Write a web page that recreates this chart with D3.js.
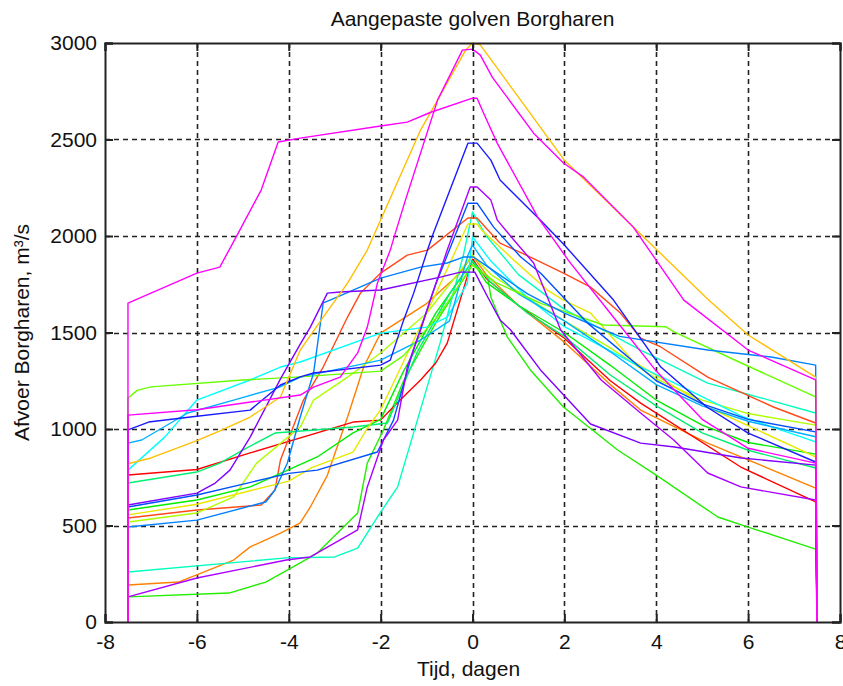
<!DOCTYPE html>
<html>
<head>
<meta charset="utf-8">
<script src="https://cdn.jsdelivr.net/npm/d3@7"></script>
<style>
  body { margin: 0; background: #fff; }
  text { font-family: "Liberation Sans", Arial, sans-serif; fill: #111; }
</style>
</head>
<body>
<div id="chart"></div>
<script>
// axis settings
const xTicks = [-8, -6, -4, -2, 0, 2, 4, 6, 8];
const yTicks = [0, 500, 1000, 1500, 2000, 2500, 3000];
const tStart = -7.5, tEnd = 7.5;

// waves: [tijd (dagen), afvoer (m3/s)]
const orange192 = [[-7.5,192],[-6.4,207],[-5.2,321],[-4.84,389],[-4.18,461],[-3.75,513],[-3.53,596],[-3.16,760],[-2.72,1062],[-2.37,1321],[-2,1497],[-1,1650],[-0.3,1800],[0,1900],[0.3,1800],[1,1640],[2,1450],[3,1230],[3.66,1098],[5.12,927],[7.47,694]];
const lowGreen = [[-7.5,130],[-5.3,150],[-4.5,207],[-3.75,306],[-3.38,357],[-2.5,565],[-2.29,823],[-1.94,995],[-1.5,1250],[-0.8,1550],[0,1850],[0.33,1787],[0.4,1684],[0.6,1565],[0.76,1476],[1.26,1306],[1.98,1114],[3.16,891],[4,761],[5.34,544],[6,492],[7.47,378]];
const aqua259 = [[-7.5,259],[-4.05,332],[-3,337],[-2.5,383],[-2.07,544],[-1.63,700],[-1.2,1046],[-0.7,1450],[-0.2,1900],[0,2124],[0.3,2000],[1,1800],[2,1620],[3.66,1409],[5.12,1238],[7.47,1083]];
const red762 = [[-7.5,762],[-6,790],[-4.84,876],[-2.6,1036],[-2,1046],[-1.79,1098],[-1.42,1186],[-1.13,1254],[-0.8,1342],[-0.55,1445],[0,1880],[0.3,1780],[1,1640],[2,1470],[3,1250],[3.66,1134],[5.84,803],[7.47,622]];
const orangeRed = [[-7.5,539],[-6,580],[-4.6,606],[-4.3,684],[-4.18,840],[-3.68,1150],[-3.25,1321],[-2.72,1580],[-2.44,1704],[-2,1808],[-1.42,1901],[-0.98,1927],[-0.1,2093],[0.1,2093],[0.3,2040],[0.6,1963],[1.26,1891],[1.98,1808],[2.57,1735],[3.22,1601],[3.66,1471],[4.1,1425],[5.12,1269],[6.55,1114],[7.47,1031]];
const yellowGreen = [[-7.5,518],[-6,565],[-5.2,648],[-4.7,823],[-3.75,1010],[-3.46,1150],[-2.72,1269],[-2,1394],[-1,1600],[0,1900],[0.4,1800],[1.2,1680],[2,1560],[3,1420],[4,1260],[5,1150],[6,1080],[7.47,1020]];
const green580 = [[-7.5,580],[-6,632],[-4.84,700],[-3.38,855],[-2.6,980],[-2,1050],[-1.5,1300],[-0.8,1600],[0,1870],[0.3,1760],[1,1640],[2,1500],[3,1330],[4,1150],[5,1020],[6,930],[7.47,870]];
const spring720 = [[-7.5,720],[-6,777],[-5.5,823],[-5,891],[-4.3,979],[-2.6,1010],[-1.85,1031],[-1.2,1400],[-0.5,1700],[0,1870],[0.4,1760],[1.2,1600],[2,1480],[3,1280],[4,1120],[5,980],[6,890],[7.47,798]];
const yellow555 = [[-7.5,555],[-6,610],[-4.84,680],[-4,730],[-3.5,800],[-2.6,880],[-2.3,1000],[-2,1100],[-1.5,1350],[-0.8,1700],[-0.1,2062],[0.1,2062],[0.2,2031],[0.9,1875],[1.63,1720],[1.98,1668],[2.57,1601],[3.5,1350],[5.12,1114],[7.47,855]];
const cyan787 = [[-7.5,787],[-6.7,958],[-6,1150],[-4.84,1254],[-4.18,1321],[-3.75,1347],[-2,1497],[-1,1528],[-0.55,1580],[-0.11,1756],[0,1995],[0.4,1870],[1.2,1680],[2,1530],[3.66,1321],[4.4,1238],[5.9,1062],[7.47,933]];
const sky927 = [[-7.5,927],[-7.2,943],[-6.2,1083],[-5.2,1150],[-4.2,1217],[-3.75,1269],[-2,1357],[-1.13,1461],[-0.5,1560],[-0.1,1900],[0,1953],[0.3,1850],[1,1700],[2,1560],[3,1400],[4,1230],[5,1120],[6,1040],[7.47,960]];
const chartreuse = [[-7.5,1160],[-7.3,1200],[-7,1218],[-5,1254],[-3.75,1270],[-2,1300],[-1.5,1380],[-0.7,1600],[0,1850],[0.5,1760],[1.5,1650],[2.85,1539],[4.2,1530],[4.4,1502],[5.85,1342],[7.47,1166]];
const azure492 = [[-7.5,492],[-6,528],[-4.5,622],[-4.3,684],[-4.03,824],[-3.75,1062],[-3.46,1290],[-3.25,1653],[-3.1,1668],[-2,1782],[-1.13,1839],[-0.55,1860],[-0.2,1891],[0.02,1891],[0.4,1830],[1.2,1700],[2,1600],[3.2,1480],[5.12,1409],[6.5,1373],[7.47,1331]];
const blue596 = [[-7.5,596],[-6,658],[-4,770],[-3.38,787],[-2.07,881],[-1.72,1046],[-1.3,1400],[-0.8,1750],[-0.1,2170],[0.1,2170],[0.46,2046],[1.05,1891],[1.48,1808],[2.5,1550],[4,1250],[5,1130],[6,1050],[7.47,985]];
const violet606 = [[-7.5,606],[-6,668],[-5.6,720],[-5.28,787],[-4.84,958],[-4.18,1260],[-3.75,1440],[-3.53,1528],[-3.16,1704],[-2.88,1710],[-2,1720],[-0.7,1787],[-0.26,1813],[0.05,1813],[0.33,1684],[0.6,1565],[0.83,1513],[1.5,1300],[2.57,1026],[3.66,927],[4.4,907],[5.85,850],[7.47,813]];
const purple130 = [[-7.5,130],[-6,228],[-4.05,321],[-3.53,337],[-2.5,477],[-2.29,700],[-1.94,943],[-1.63,1046],[-1.42,1321],[-1.13,1513],[-0.92,1668],[-0.55,1927],[-0.05,2254],[0.1,2254],[0.4,2186],[0.54,2082],[0.9,1979],[1.33,1860],[1.92,1513],[2.8,1254],[3.66,1083],[4.38,943],[5.12,772],[5.84,700],[7.47,632]];
const blue995 = [[-7.5,995],[-7.05,1036],[-6.14,1062],[-4.84,1098],[-4.18,1228],[-3.75,1270],[-3.46,1290],[-2,1331],[-1.79,1357],[-1.5,1564],[-1.28,1704],[-0.98,1927],[-0.85,2015],[-0.1,2481],[0.1,2481],[0.4,2393],[0.6,2290],[1.48,2082],[2,1953],[3.07,1668],[4.1,1321],[5.1,1114],[6,979],[7.47,829]];
const gold820 = [[-7.5,820],[-7,850],[-6,940],[-5.5,990],[-4.84,1062],[-4.18,1166],[-3.75,1409],[-3.25,1580],[-2.72,1756],[-2.29,1927],[-1.13,2549],[-0.15,2963],[0,3000],[0.17,2990],[2,2393],[3.95,1943],[5.14,1668],[6,1487],[7.47,1269]];
const magenta1072 = [[-7.5,1072],[-6,1100],[-3.75,1176],[-3.46,1217],[-2.88,1269],[-2.5,1394],[-2.29,1528],[-2.07,1756],[-1.79,1927],[-1.68,2015],[-1.46,2186],[-0.76,2704],[-0.22,2963],[0,2968],[0.17,2937],[0.43,2823],[1.33,2533],[1.98,2378],[2.42,2305],[3.5,2046],[4.6,1668],[6,1409],[7.47,1254]];
const magentaPlateau = [[-7.5,1652],[-7,1704],[-6,1808],[-5.5,1839],[-5.3,1927],[-5.1,2015],[-4.6,2238],[-4.23,2487],[-3.75,2507],[-2,2570],[-1.42,2590],[-0.92,2640],[0,2714],[0.1,2714],[0.24,2637],[0.54,2480],[1.42,2098],[2.1,1870],[3,1600],[4,1300],[5,1050],[6,900],[7.47,823]];

const series = [
  [orange192, "#ff8000"], [lowGreen, "#22ee00"], [aqua259, "#00ffbf"],
  [red762, "#ff0000"], [orangeRed, "#ff4a1a"], [yellowGreen, "#b0ff00"],
  [green580, "#00ee00"], [spring720, "#00f070"], [yellow555, "#e8e800"],
  [cyan787, "#00ffff"], [sky927, "#00b0ff"], [chartreuse, "#66ff00"],
  [azure492, "#0080ff"], [blue596, "#0050ff"], [violet606, "#7f00ff"],
  [purple130, "#aa00ff"], [blue995, "#1a1aff"], [gold820, "#ffbf00"],
  [magenta1072, "#ff00ff"], [magentaPlateau, "#ff00ff"]
];

const W = 843, H = 686;
const margin = {left: 105, right: 3, top: 43, bottom: 64};

const svg = d3.select("#chart").append("svg")
  .attr("width", W)
  .attr("height", H);

const x = d3.scaleLinear().domain([-8, 8]).range([margin.left, W - margin.right]);
const y = d3.scaleLinear().domain([0, 3000]).range([H - margin.bottom, margin.top]);

// dashed grid
svg.append("g").selectAll("line")
  .data(xTicks.slice(1, -1))
  .enter().append("line")
  .attr("x1", d => Math.round(x(d)) + 0.5).attr("x2", d => Math.round(x(d)) + 0.5)
  .attr("y1", y(3000)).attr("y2", y(0))
  .attr("stroke", "#222").attr("stroke-width", 1.6)
  .attr("stroke-dasharray", "5,4");

svg.append("g").selectAll("line")
  .data(yTicks.slice(1, -1))
  .enter().append("line")
  .attr("y1", d => Math.round(y(d)) + 0.5).attr("y2", d => Math.round(y(d)) + 0.5)
  .attr("x1", x(-8)).attr("x2", x(8))
  .attr("stroke", "#222").attr("stroke-width", 1.6)
  .attr("stroke-dasharray", "5,4");

// lines
const line = d3.line().x(d => x(d[0])).y(d => y(d[1]));
svg.append("g").selectAll("path")
  .data(series)
  .enter().append("path")
  .attr("fill", "none")
  .attr("stroke", d => d[1])
  .attr("stroke-width", 1.4)
  .attr("stroke-linejoin", "round")
  .attr("d", d => line([[tStart, 0], ...d[0], [tEnd, 0]]));

// frame with inward ticks
const fmt = d => String(d);
const axB = svg.append("g").attr("transform", `translate(0,${y(0)})`)
  .call(d3.axisBottom(x).tickValues(xTicks).tickSize(-8).tickPadding(12).tickFormat(fmt));
const axT = svg.append("g").attr("transform", `translate(0,${y(3000)})`)
  .call(d3.axisTop(x).tickValues(xTicks).tickSize(-8).tickFormat(""));
const axL = svg.append("g").attr("transform", `translate(${x(-8)},0)`)
  .call(d3.axisLeft(y).tickValues(yTicks).tickSize(-8).tickPadding(8).tickFormat(fmt));
const axR = svg.append("g").attr("transform", `translate(${x(8)},0)`)
  .call(d3.axisRight(y).tickValues(yTicks).tickSize(-8).tickFormat(""));

[axB, axT, axL, axR].forEach(g => {
  g.select(".domain").attr("stroke", "#222").attr("stroke-width", 2);
  g.selectAll(".tick line").attr("stroke", "#222").attr("stroke-width", 2);
  g.selectAll(".tick text").attr("font-size", 21).attr("fill", "#111")
    .attr("font-family", "'Liberation Sans', Arial, sans-serif");
});

// title and axis labels
svg.append("text")
  .attr("x", x(0)).attr("y", 26)
  .attr("text-anchor", "middle").attr("font-size", 21)
  .text("Aangepaste golven Borgharen");

svg.append("text")
  .attr("x", x(0) - 4).attr("y", 676)
  .attr("text-anchor", "middle").attr("font-size", 21)
  .text("Tijd, dagen");

svg.append("text")
  .attr("transform", `translate(29,${(y(0) + y(3000)) / 2}) rotate(-90)`)
  .attr("text-anchor", "middle").attr("font-size", 21)
  .text("Afvoer Borgharen, m³/s");
</script>
</body>
</html>
